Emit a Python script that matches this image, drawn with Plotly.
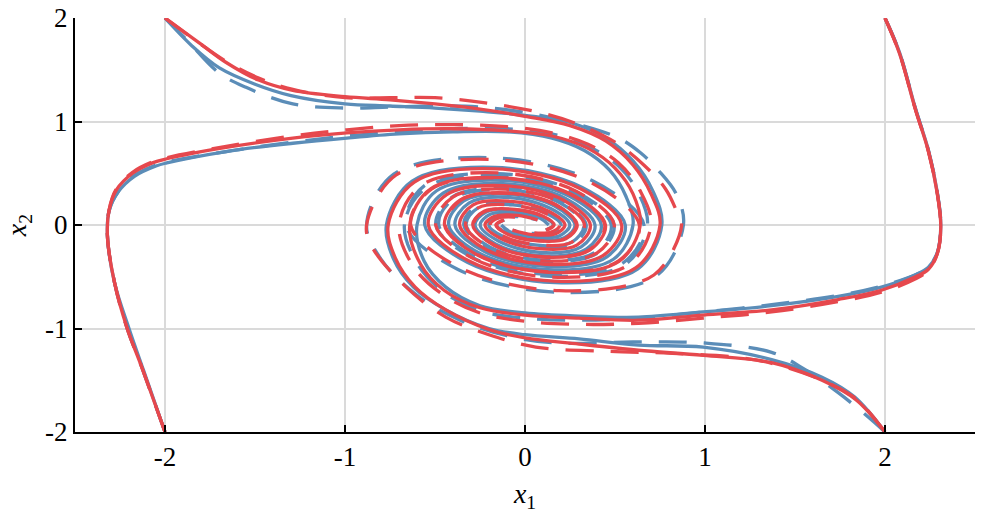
import plotly.graph_objects as go

# ---------------- data ----------------
x_ticks = [-2, -1, 0, 1, 2]
x_tick_labels = ["-2", "-1", "0", "1", "2"]
y_ticks = [-2, -1, 0, 1, 2]
y_tick_labels = ["-2", "-1", "0", "1", "2"]

# red solid trajectories (start corners: (-2,2), (2,-2), (-2,-2), (2,2))
ra_x = [-2, -1.81, -1.66, -1.48, -1.29, -1.0, -0.75, -0.5, -0.25, 0.0, 0.25, 0.45, 0.6, 0.7, 0.75, 0.615, 0.163, -0.308, -0.537, -0.435, -0.114, 0.212, 0.363, 0.288, 0.074, -0.134, -0.222, -0.169, -0.041, 0.070]
ra_y = [2, 1.76, 1.57, 1.40, 1.30, 1.24, 1.21, 1.17, 1.12, 1.05, 0.96, 0.81, 0.58, 0.30, 0.0, -0.415, -0.542, -0.351, 0.0, 0.294, 0.379, 0.242, 0.0, -0.195, -0.228, -0.131, 0.0, 0.084, 0.092, 0.049]
rd_x = [2, 1.84, 1.65, 1.37, 0.99, 0.63, 0.3, 0.0, -0.2, -0.44, -0.61, -0.72, -0.76, -0.615, -0.163, 0.308, 0.537, 0.435, 0.114, -0.212, -0.363, -0.288, -0.074, 0.134, 0.222, 0.169, 0.041, -0.070]
rd_y = [-2, -1.69, -1.5, -1.33, -1.26, -1.21, -1.15, -1.09, -1.01, -0.82, -0.6, -0.32, 0.0, 0.415, 0.542, 0.351, 0.0, -0.294, -0.379, -0.242, 0.0, 0.195, 0.228, 0.131, 0.0, -0.084, -0.092, -0.049]
rb_x = [-2, -2.13, -2.21, -2.28, -2.32, -2.31, -2.27, -2.18, -2.07, -1.99, -1.66, -1.29, -0.99, -0.7, -0.4, -0.1, 0.15, 0.35, 0.5, 0.6, 0.64, 0.522, 0.137, -0.259, -0.447, -0.359, -0.093, 0.172, 0.290, 0.227, 0.057, -0.101, -0.162, -0.119]
rb_y = [-2, -1.37, -1.0, -0.56, -0.1, 0.15, 0.34, 0.50, 0.6, 0.64, 0.75, 0.84, 0.89, 0.92, 0.93, 0.91, 0.86, 0.74, 0.55, 0.3, 0.0, -0.352, -0.458, -0.295, 0.0, 0.243, 0.310, 0.196, 0.0, -0.132, -0.151, -0.085, 0.0, 0.050]
rc_x = [2, 2.08, 2.17, 2.24, 2.29, 2.31, 2.29, 2.24, 2.17, 1.98, 1.74, 1.37, 0.99, 0.63, 0.3, 0.0, -0.25, -0.45, -0.58, -0.64, -0.522, -0.137, 0.259, 0.447, 0.359, 0.093, -0.172, -0.290, -0.227, -0.057, 0.101, 0.162, 0.119]
rc_y = [2, 1.66, 1.11, 0.72, 0.31, -0.02, -0.28, -0.43, -0.5, -0.63, -0.72, -0.82, -0.87, -0.92, -0.9, -0.87, -0.8, -0.63, -0.38, 0.0, 0.352, 0.458, 0.295, 0.0, -0.243, -0.310, -0.196, 0.0, 0.132, 0.151, 0.085, 0.0, -0.050]

# blue solid trajectories
ba_x = [-2, -1.85, -1.7, -1.5, -1.3, -1.0, -0.75, -0.5, -0.25, 0.0, 0.25, 0.45, 0.6, 0.71, 0.76, 0.627, 0.167, -0.318, -0.557, -0.455, -0.120, 0.225, 0.389, 0.312, 0.080, -0.148, -0.249, -0.193, -0.048, 0.084, 0.132]
ba_y = [2, 1.73, 1.52, 1.36, 1.25, 1.17, 1.15, 1.13, 1.1, 1.06, 0.99, 0.84, 0.62, 0.33, 0.0, -0.423, -0.556, -0.362, 0.0, 0.307, 0.399, 0.257, 0.0, -0.211, -0.264, -0.154, 0.0, 0.103, 0.116, 0.064, 0.0]
bd_x = [2, 1.83, 1.65, 1.37, 0.99, 0.63, 0.3, 0.0, -0.2, -0.44, -0.62, -0.73, -0.77, -0.627, -0.167, 0.318, 0.557, 0.455, 0.120, -0.225, -0.389, -0.312, -0.080, 0.148, 0.249, 0.193, 0.048, -0.084, -0.132]
bd_y = [-2, -1.66, -1.47, -1.3, -1.18, -1.16, -1.1, -1.06, -1.0, -0.82, -0.6, -0.33, 0.0, 0.423, 0.556, 0.362, 0.0, -0.307, -0.399, -0.257, 0.0, 0.211, 0.264, 0.154, 0.0, -0.103, -0.116, -0.064, 0.0]
bb_x = [-2, -2.12, -2.2, -2.28, -2.32, -2.31, -2.26, -2.17, -2.05, -1.99, -1.66, -1.29, -0.99, -0.7, -0.4, -0.1, 0.15, 0.33, 0.47, 0.56, 0.60, 0.491, 0.130, -0.245, -0.424, -0.342, -0.089, 0.164, 0.278, 0.218, 0.055, -0.097, -0.157, -0.115]
bb_y = [-2, -1.4, -1.0, -0.56, -0.1, 0.14, 0.32, 0.47, 0.57, 0.6, 0.71, 0.79, 0.84, 0.88, 0.9, 0.9, 0.84, 0.72, 0.53, 0.28, 0.0, -0.331, -0.432, -0.279, 0.0, 0.231, 0.296, 0.183, 0.0, -0.124, -0.143, -0.080, 0.0, 0.048]
bc_x = [2, 2.08, 2.17, 2.24, 2.29, 2.31, 2.29, 2.24, 2.17, 1.98, 1.74, 1.37, 0.99, 0.63, 0.3, 0.0, -0.25, -0.44, -0.56, -0.60, -0.491, -0.130, 0.245, 0.424, 0.342, 0.089, -0.164, -0.278, -0.218, -0.055, 0.097, 0.157, 0.115]
bc_y = [2, 1.67, 1.12, 0.73, 0.32, 0.0, -0.27, -0.41, -0.48, -0.6, -0.69, -0.78, -0.84, -0.89, -0.88, -0.85, -0.78, -0.6, -0.35, 0.0, 0.331, 0.432, 0.279, 0.0, -0.231, -0.296, -0.183, 0.0, 0.124, 0.143, 0.080, 0.0, -0.048]

# red dashed trajectories
rda_x = [-2, -1.82, -1.66, -1.48, -1.29, -1.0, -0.75, -0.5, -0.22, 0.1, 0.3, 0.5, 0.66, 0.78, 0.85, 0.87, 0.716, 0.190, -0.362, -0.635, -0.518, -0.136, 0.256, 0.443, 0.356, 0.092, -0.170, -0.286, -0.224, -0.056, 0.099, 0.159, 0.116]
rda_y = [2, 1.77, 1.58, 1.42, 1.31, 1.23, 1.23, 1.23, 1.18, 1.08, 0.97, 0.8, 0.58, 0.35, 0.1, 0.0, -0.483, -0.634, -0.413, 0.0, 0.349, 0.454, 0.292, 0.0, -0.240, -0.306, -0.193, 0.0, 0.129, 0.148, 0.082, 0.0, -0.048]
rdd_x = [2, 1.84, 1.65, 1.4, 1.19, 0.82, 0.45, 0.06, -0.2, -0.44, -0.66, -0.85, -0.88, -0.716, -0.190, 0.362, 0.635, 0.518, 0.136, -0.256, -0.443, -0.356, -0.092, 0.170, 0.286, 0.224, 0.056, -0.099, -0.159, -0.116]
rdd_y = [-2, -1.68, -1.5, -1.35, -1.28, -1.24, -1.22, -1.18, -1.06, -0.89, -0.6, -0.21, 0.0, 0.483, 0.634, 0.413, 0.0, -0.349, -0.454, -0.292, 0.0, 0.240, 0.306, 0.193, 0.0, -0.129, -0.148, -0.082, 0.0, 0.048]
rdb_x = [-2, -2.13, -2.21, -2.28, -2.32, -2.31, -2.27, -2.18, -2.07, -1.99, -1.66, -1.29, -0.99, -0.7, -0.4, -0.1, 0.15, 0.35, 0.52, 0.64, 0.70, 0.573, 0.151, -0.286, -0.496, -0.401, -0.104, 0.194, 0.330, 0.260, 0.066, -0.119, -0.194, -0.146, -0.035]
rdb_y = [-2, -1.37, -1.0, -0.56, -0.1, 0.15, 0.35, 0.51, 0.61, 0.65, 0.76, 0.86, 0.92, 0.96, 0.97, 0.95, 0.89, 0.78, 0.6, 0.33, 0.0, -0.387, -0.504, -0.325, 0.0, 0.270, 0.347, 0.221, 0.0, -0.165, -0.191, -0.109, 0.0, 0.067, 0.073]
rdc_x = [2, 2.08, 2.17, 2.24, 2.29, 2.31, 2.29, 2.24, 2.17, 1.98, 1.74, 1.37, 0.99, 0.63, 0.3, 0.0, -0.25, -0.45, -0.62, -0.70, -0.573, -0.151, 0.286, 0.496, 0.401, 0.104, -0.194, -0.330, -0.260, -0.066, 0.119, 0.194, 0.146, 0.035]
rdc_y = [2, 1.66, 1.11, 0.72, 0.31, -0.02, -0.28, -0.44, -0.52, -0.65, -0.74, -0.84, -0.9, -0.95, -0.96, -0.93, -0.85, -0.68, -0.4, 0.0, 0.387, 0.504, 0.325, 0.0, -0.270, -0.347, -0.221, 0.0, 0.165, 0.191, 0.109, 0.0, -0.067, -0.073]

# blue dashed trajectories
bda_x = [-2, -1.88, -1.7, -1.55, -1.29, -1.0, -0.75, -0.5, -0.25, 0.02, 0.3, 0.52, 0.64, 0.74, 0.84, 0.88, 0.729, 0.195, -0.375, -0.661, -0.544, -0.144, 0.274, 0.479, 0.389, 0.102, -0.191, -0.327, -0.261, -0.067, 0.121, 0.201, 0.154, 0.037]
bda_y = [2, 1.79, 1.47, 1.33, 1.17, 1.13, 1.14, 1.15, 1.14, 1.08, 0.97, 0.84, 0.7, 0.53, 0.3, 0.0, -0.492, -0.651, -0.427, 0.0, 0.367, 0.481, 0.312, 0.0, -0.263, -0.340, -0.217, 0.0, 0.165, 0.195, 0.112, 0.0, -0.072, -0.080]
bdd_x = [2, 1.91, 1.74, 1.55, 1.37, 1.0, 0.6, 0.17, -0.1, -0.36, -0.6, -0.8, -0.88, -0.729, -0.195, 0.375, 0.661, 0.544, 0.144, -0.274, -0.479, -0.389, -0.102, 0.191, 0.327, 0.261, 0.067, -0.121, -0.201, -0.154, -0.037]
bdd_y = [-2, -1.86, -1.62, -1.39, -1.23, -1.14, -1.13, -1.14, -1.07, -0.92, -0.68, -0.33, 0.0, 0.492, 0.651, 0.427, 0.0, -0.367, -0.481, -0.312, 0.0, 0.263, 0.340, 0.217, 0.0, -0.165, -0.195, -0.112, 0.0, 0.072, 0.080]
bdb_x = [-2, -2.13, -2.21, -2.28, -2.32, -2.31, -2.26, -2.17, -2.05, -1.99, -1.66, -1.29, -0.99, -0.7, -0.4, -0.1, 0.15, 0.35, 0.52, 0.63, 0.68, 0.560, 0.149, -0.283, -0.495, -0.403, -0.106, 0.198, 0.340, 0.272, 0.070, -0.127, -0.212, -0.163, -0.040, 0.069]
bdb_y = [-2, -1.37, -1.0, -0.56, -0.1, 0.14, 0.32, 0.48, 0.58, 0.61, 0.71, 0.8, 0.86, 0.9, 0.93, 0.93, 0.88, 0.76, 0.57, 0.31, 0.0, -0.378, -0.496, -0.322, 0.0, 0.272, 0.352, 0.226, 0.0, -0.177, -0.209, -0.121, 0.0, 0.079, 0.088, 0.048]
bdc_x = [2, 2.08, 2.17, 2.24, 2.29, 2.31, 2.29, 2.24, 2.17, 1.98, 1.74, 1.37, 0.99, 0.63, 0.3, 0.0, -0.25, -0.45, -0.6, -0.67, -0.560, -0.149, 0.283, 0.495, 0.403, 0.106, -0.198, -0.340, -0.272, -0.070, 0.127, 0.212, 0.163, 0.040, -0.069]
bdc_y = [2, 1.67, 1.12, 0.73, 0.32, 0.0, -0.27, -0.41, -0.48, -0.59, -0.68, -0.77, -0.84, -0.9, -0.92, -0.9, -0.83, -0.65, -0.37, 0.0, 0.378, 0.496, 0.322, 0.0, -0.272, -0.352, -0.226, 0.0, 0.177, 0.209, 0.121, 0.0, -0.079, -0.088, -0.048]

# ---------------- styling ----------------
RED = "#E6484D"
BLUE = "#5B8DB8"
DASH = "28px,17px"
LW = 3.3

series = [
    (ba_x, ba_y, BLUE, "solid"), (bb_x, bb_y, BLUE, "solid"),
    (bc_x, bc_y, BLUE, "solid"), (bd_x, bd_y, BLUE, "solid"),
    (bda_x, bda_y, BLUE, DASH), (bdb_x, bdb_y, BLUE, DASH),
    (bdc_x, bdc_y, BLUE, DASH), (bdd_x, bdd_y, BLUE, DASH),
    (ra_x, ra_y, RED, "solid"), (rb_x, rb_y, RED, "solid"),
    (rc_x, rc_y, RED, "solid"), (rd_x, rd_y, RED, "solid"),
    (rda_x, rda_y, RED, DASH), (rdb_x, rdb_y, RED, DASH),
    (rdc_x, rdc_y, RED, DASH), (rdd_x, rdd_y, RED, DASH),
]

fig = go.Figure()
for xs, ys, col, dash in series:
    fig.add_trace(go.Scatter(
        x=xs, y=ys, mode="lines",
        line=dict(color=col, width=LW, dash=dash, shape="spline", smoothing=1.0),
        hoverinfo="skip", showlegend=False,
    ))

FONT = "Liberation Serif, DejaVu Serif, serif"
axis_common = dict(
    showline=True, linecolor="black", linewidth=2,
    ticks="inside", ticklen=7, tickwidth=2, tickcolor="black",
    showgrid=True, gridcolor="#DADADA", gridwidth=1.5,
    zeroline=False, automargin=False,
    tickfont=dict(family=FONT, size=27, color="black"),
)

fig.update_layout(
    width=997, height=517,
    margin=dict(l=75, r=22, t=18, b=85),
    plot_bgcolor="white", paper_bgcolor="white",
    showlegend=False,
    font=dict(family=FONT, size=27, color="black"),
    xaxis=dict(range=[-2.5, 2.5], tickmode="array", tickvals=x_ticks, ticktext=x_tick_labels,
               title=dict(text="<i>x</i><sub>1</sub>", standoff=12,
                          font=dict(family=FONT, size=28, color="black")),
               **axis_common),
    yaxis=dict(range=[-2, 2], tickmode="array", tickvals=y_ticks, ticktext=y_tick_labels,
               title=dict(text="<i>x</i><sub>2</sub>", standoff=10,
                          font=dict(family=FONT, size=28, color="black")),
               **axis_common),
)

fig.write_html(
    "out.html",
    config={"displayModeBar": False},
    post_script="document.body.style.margin='0px';document.body.style.padding='0px';",
)
